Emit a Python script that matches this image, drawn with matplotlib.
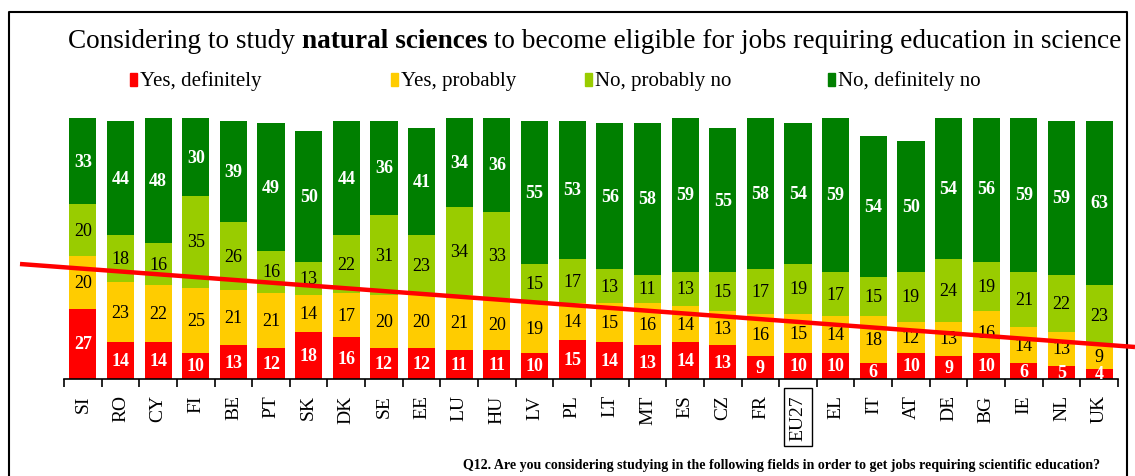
import matplotlib.pyplot as plt
from matplotlib.lines import Line2D
from matplotlib.patches import Rectangle
import numpy as np

countries = ['SI', 'RO', 'CY', 'FI', 'BE', 'PT', 'SK', 'DK', 'SE', 'EE', 'LU', 'HU', 'LV', 'PL',
             'LT', 'MT', 'ES', 'CZ', 'FR', 'EU27', 'EL', 'IT', 'AT', 'DE', 'BG', 'IE', 'NL', 'UK']
yes_definitely = [27, 14, 14, 10, 13, 12, 18, 16, 12, 12, 11, 11, 10, 15,
                  14, 13, 14, 13, 9, 10, 10, 6, 10, 9, 10, 6, 5, 4]
yes_probably = [20, 23, 22, 25, 21, 21, 14, 17, 20, 20, 21, 20, 19, 14,
                15, 16, 14, 13, 16, 15, 14, 18, 12, 13, 16, 14, 13, 9]
no_probably = [20, 18, 16, 35, 26, 16, 13, 22, 31, 23, 34, 33, 15, 17,
               13, 11, 13, 15, 17, 19, 17, 15, 19, 24, 19, 21, 22, 23]
no_definitely = [33, 44, 48, 30, 39, 49, 50, 44, 36, 41, 34, 36, 55, 53,
                 56, 58, 59, 55, 58, 54, 59, 54, 50, 54, 56, 59, 59, 63]
series_names = ['Yes, definitely', 'Yes, probably', 'No, probably no', 'No, definitely no']

colors = ['#ff0000', '#ffcc00', '#99cc00', '#007f00']
label_colors = ['white', 'black', 'black', 'white']
serif = ['Liberation Serif', 'DejaVu Serif']

W, H = 1135, 477
fig = plt.figure(figsize=(W / 100, H / 100), dpi=100)
ax = fig.add_axes([64 / W, 1 - 380 / H, (1118 - 64) / W, 261 / H])

x = np.arange(len(countries))
bottom = np.zeros(len(countries))
for vals, c, lc in zip([yes_definitely, yes_probably, no_probably, no_definitely], colors, label_colors):
    vals = np.array(vals, dtype=float)
    ax.bar(x, vals, bottom=bottom, width=0.72, color=c)
    for xi, b, v in zip(x, bottom, vals):
        ax.text(xi, b + v / 2, f'{int(v)}', ha='center', va='center', color=lc,
                fontsize=13, family=serif, fontweight='bold' if lc == 'white' else 'normal')
    bottom += vals

ax.set_xlim(-0.5, len(countries) - 0.5)
ax.set_ylim(0, 100)
for s in ['top', 'right', 'left']:
    ax.spines[s].set_visible(False)
ax.spines['bottom'].set_linewidth(1.2)
ax.set_yticks([])
ax.set_xticks(x)
ax.set_xticklabels(countries, rotation=90, family=serif, fontsize=14)
ax.tick_params(axis='x', which='major', length=0, pad=11)
ax.set_xticks(np.arange(-0.5, len(countries)), minor=True)
ax.tick_params(axis='x', which='minor', length=6, width=1.2, direction='out')
ax.get_xticklabels()[countries.index('EU27')].set_bbox(
    dict(boxstyle='square,pad=0.3', facecolor='none', edgecolor='black', linewidth=1))

# frame around the whole chart
def px_line(xs, ys, **kw):
    fig.add_artist(Line2D([v / W for v in xs], [1 - v / H for v in ys], **kw))

px_line([9, 9, 1127, 1127], [477, 13, 13, 477], color='black', linewidth=1.5)

# trend line across the bars
px_line([20, 1135], [265, 348], color='#ff0000', linewidth=3.2, solid_capstyle='butt')

# title, with the field name in bold
fig.canvas.draw()
renderer = fig.canvas.get_renderer()
parts = [('Considering to study ', 'normal'), ('natural sciences', 'bold'),
         (' to become eligible for jobs requiring education in science', 'normal')]
tx = 68 / W
for txt, wt in parts:
    t = fig.text(tx, 1 - 48 / H, txt, family=serif, fontsize=19.6, fontweight=wt,
                 ha='left', va='baseline')
    bb = t.get_window_extent(renderer)
    tx = bb.x1 / W

# legend
legend_x = [130, 391, 585, 828]
for lx, name, c in zip(legend_x, series_names, colors):
    fig.add_artist(Rectangle((lx / W, 1 - 87 / H), 7 / W, 13 / H, color=c,
                             transform=fig.transFigure))
    fig.text((lx + 10) / W, 1 - 86 / H, name, family=serif, fontsize=15,
             ha='left', va='baseline')

fig.text(1100 / W, 1 - 469 / H,
         'Q12. Are you considering studying in the following fields in order to get jobs requiring scientific education?',
         family=serif, fontsize=10, fontweight='bold', ha='right', va='baseline')

fig.savefig('out.png', dpi=100)
